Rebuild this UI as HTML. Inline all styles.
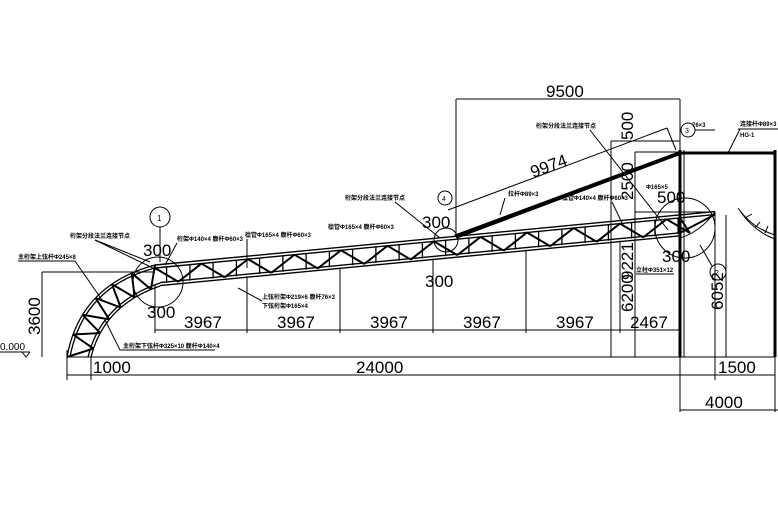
<!DOCTYPE html>
<html><head><meta charset="utf-8"><style>
body{margin:0;background:#fff;}
svg{display:block;}
text{font-family:"Liberation Sans",sans-serif;fill:#000;}
.c{font-family:"Liberation Sans","Noto Sans CJK SC",sans-serif;font-size:6px;font-weight:bold;}
.d{font-size:17px;}
</style></head><body>
<svg id="s" width="778" height="521" viewBox="0 0 778 521" xmlns="http://www.w3.org/2000/svg" stroke="#000" fill="none" stroke-width="1">
<line x1="67" y1="357" x2="775" y2="357"/>
<line x1="67" y1="375" x2="775" y2="375"/>
<line x1="67" y1="350" x2="67" y2="380"/>
<line x1="91" y1="357" x2="91" y2="380"/>
<line x1="680" y1="330" x2="680" y2="412"/>
<line x1="715" y1="212" x2="715" y2="380"/>
<line x1="775" y1="150" x2="775" y2="412"/>
<line x1="680" y1="410" x2="778" y2="410"/>
<text class="d" x="93" y="373" stroke="none">1000</text>
<text class="d" x="356" y="373" stroke="none">24000</text>
<text class="d" x="718" y="373" stroke="none">1500</text>
<text class="d" x="705" y="408" stroke="none">4000</text>
<line x1="0" y1="352" x2="30" y2="352"/>
<polyline points="22,352 26,357 30,352"/>
<text x="0" y="350" font-size="10" stroke="none">0.000</text>
<line x1="42" y1="272" x2="42" y2="357"/>
<line x1="42" y1="272" x2="155" y2="272"/>
<text class="d" transform="translate(40,335) rotate(-90)" stroke="none">3600</text>
<line x1="155" y1="330" x2="680" y2="330"/>
<g id="ticks"></g>
<text class="d" x="184" y="328" stroke="none">3967</text>
<text class="d" x="277" y="328" stroke="none">3967</text>
<text class="d" x="370" y="328" stroke="none">3967</text>
<text class="d" x="463" y="328" stroke="none">3967</text>
<text class="d" x="556" y="328" stroke="none">3967</text>
<text class="d" x="630" y="328" stroke="none">2467</text>
<line x1="456" y1="99" x2="680" y2="99"/>
<line x1="456" y1="99" x2="456" y2="236"/>
<line x1="680" y1="99" x2="680" y2="150"/>
<text class="d" x="546" y="97" stroke="none">9500</text>
<line x1="611" y1="141" x2="611" y2="357"/>
<line x1="635" y1="152" x2="635" y2="357"/>
<line x1="611" y1="141" x2="680" y2="141"/>
<line x1="635" y1="152" x2="680" y2="152"/>
<line x1="635" y1="212" x2="715" y2="212"/>
<line x1="726" y1="215" x2="726" y2="357"/>
<text class="d" transform="translate(633,140) rotate(-90)" stroke="none">500</text>
<text class="d" transform="translate(633,200) rotate(-90)" stroke="none">2500</text>
<text class="d" transform="translate(633,280) rotate(-90)" stroke="none">9221</text>
<text class="d" transform="translate(633,312) rotate(-90)" stroke="none">6200</text>
<text class="d" transform="translate(723,310) rotate(-90)" stroke="none">6052</text>
<line x1="448" y1="210" x2="667" y2="128"/>
<line x1="667" y1="128" x2="676" y2="150"/>
<text class="d" transform="translate(533,178) rotate(-20.5)" stroke="none">9974</text>
<line x1="680" y1="150" x2="680" y2="357" stroke-width="3"/>
<line x1="684" y1="150" x2="684" y2="357"/>
<line x1="775" y1="150" x2="775" y2="357" stroke-width="3"/>
<line x1="680" y1="153" x2="775" y2="153" stroke-width="3"/>
<polygon points="455,235 680,151.5 680,154.5 457,238" fill="#000"/>
<g id="truss"></g>
<path d="M680,238 Q700,232 715,212"/>
<path d="M738,208 Q752,228 775,235"/>
<path d="M740,211 Q755,232 775,239"/>
<line x1="745" y1="218" x2="752" y2="214"/><line x1="755" y1="228" x2="760" y2="222"/><line x1="765" y1="233" x2="768" y2="226"/>
<circle cx="158" cy="282" r="25"/>
<circle cx="446" cy="240" r="12"/>
<circle cx="685" cy="228" r="30"/>
<circle cx="160" cy="217" r="10"/>
<text x="157" y="221" font-size="8" stroke="none">1</text>
<line x1="160" y1="227" x2="160" y2="262"/>
<circle cx="445" cy="198" r="7"/>
<text x="442" y="201" font-size="7" stroke="none">4</text>
<circle cx="688" cy="130" r="7"/>
<text x="685" y="133" font-size="7" stroke="none">3</text>
<circle cx="718" cy="272" r="8"/>
<text x="715" y="275" font-size="7" stroke="none">2</text>
<line x1="700" y1="245" x2="712" y2="266"/>
<text class="d" x="143" y="256" stroke="none">300</text>
<text class="d" x="147" y="318" stroke="none">300</text>
<text class="d" x="422" y="228" stroke="none">300</text>
<text class="d" x="425" y="287" stroke="none">300</text>
<text class="d" x="657" y="203" stroke="none">500</text>
<text class="d" x="662" y="262" stroke="none">300</text>
<text class="c" x="70" y="238" stroke="none">桁架分段法兰连接节点</text>
<line x1="95" y1="240" x2="150" y2="262"/><line x1="95" y1="240" x2="157" y2="270"/>
<text class="c" x="18" y="259" stroke="none">主桁架上弦杆Φ245×8</text>
<line x1="18" y1="261" x2="75" y2="261"/><line x1="75" y1="261" x2="102" y2="300"/>
<text class="c" x="177" y="241" stroke="none">桁架Φ140×4 腹杆Φ60×3</text>
<line x1="177" y1="243" x2="165" y2="265"/>
<text class="c" x="245" y="237" stroke="none">檩管Φ165×4 腹杆Φ60×3</text>
<line x1="247" y1="239" x2="247" y2="268"/>
<text class="c" x="328" y="229" stroke="none">檩管Φ165×4 腹杆Φ60×3</text>
<text class="c" x="345" y="200" stroke="none">桁架分段法兰连接节点</text>
<line x1="395" y1="202" x2="440" y2="238"/>
<text class="c" x="262" y="299" stroke="none">上弦桁架Φ219×6 腹杆76×3</text>
<text class="c" x="262" y="308" stroke="none">下弦桁架Φ165×4</text>
<line x1="238" y1="288" x2="262" y2="301"/>
<text class="c" x="123" y="348" stroke="none">主桁架下弦杆Φ325×10 腹杆Φ140×4</text>
<line x1="120" y1="350" x2="215" y2="350"/><line x1="120" y1="350" x2="105" y2="320"/>
<text class="c" x="508" y="196" stroke="none">拉杆Φ89×3</text>
<line x1="505" y1="198" x2="500" y2="215"/>
<text class="c" x="562" y="200" stroke="none">檩管Φ140×4 腹杆Φ60×3</text>
<line x1="612" y1="202" x2="622" y2="223"/>
<text class="c" x="536" y="128" stroke="none">桁架分段法兰连接节点</text>
<line x1="590" y1="130" x2="668" y2="230"/>
<text class="c" x="646" y="189" stroke="none">Φ165×5</text>
<text class="c" x="636" y="272" stroke="none">立柱Φ351×12</text>
<line x1="636" y1="274" x2="674" y2="274"/>
<text class="c" x="692" y="127" stroke="none">76×3</text>
<line x1="695" y1="130" x2="715" y2="130"/>
<text class="c" x="740" y="126" stroke="none">连接杆Φ89×3</text>
<text class="c" x="740" y="137" stroke="none">HG-1</text>
<line x1="738" y1="129" x2="778" y2="129"/><line x1="740" y1="129" x2="728" y2="153"/>
</svg>
<script>
var NS="http://www.w3.org/2000/svg";
function L(g,x1,y1,x2,y2,w){var l=document.createElementNS(NS,"line");l.setAttribute("x1",x1);l.setAttribute("y1",y1);l.setAttribute("x2",x2);l.setAttribute("y2",y2);if(w)l.setAttribute("stroke-width",w);g.appendChild(l);}
var t=document.getElementById("ticks");
function yt(x){return 265-(x-155)*0.0955;}
[155,247,340,433,526,620].forEach(function(x){L(t,x,yt(x)+20,x,333);});
var g=document.getElementById("truss");
L(g,155,yt(155),715,yt(715),1.4);L(g,155,yt(155)+3,715,yt(715)+3,1.4);
L(g,160,yt(160)+21,680,yt(680)+21,1.4);L(g,160,yt(160)+18,680,yt(680)+18,1.4);
for(var x=155;x<680;x+=46.5){var xm=x+23.25,xe=x+46.5;if(xe>680)xe=680;
 L(g,x,yt(x)+3,xm,yt(xm)+19,2);L(g,xm,yt(xm)+19,xe,yt(xe)+3,2);
 var xv=x+11.6;L(g,xv,yt(xv)+3,xv,yt(xv)+19,1.3);xv=x+34.9;if(xv<680)L(g,xv,yt(xv)+3,xv,yt(xv)+19,1.3);}
L(g,680,yt(680)+18,715,yt(715)+3,2);
function bz(p0,p1,p2,s){var u=1-s;return[u*u*p0[0]+2*u*s*p1[0]+s*s*p2[0],u*u*p0[1]+2*u*s*p1[1]+s*s*p2[1]];}
var o0=[67,357],o1=[80,285],o2=[155,265],i0=[91,357],i1=[104,305],i2=[160,286];
function path(a,b,c){var p=document.createElementNS(NS,"path");p.setAttribute("d","M"+a+" Q"+b+" "+c);p.setAttribute("stroke-width","1.3");g.appendChild(p);}
path(o0,o1,o2);path([70,357],[83,287],[155,268]);path(i0,i1,i2);path([88,357],[101,303],[160,283]);
for(var k=0;k<6;k++){var s0=k/6,s1=(k+0.5)/6,s2=(k+1)/6;var a=bz(o0,o1,o2,s0),b=bz(i0,i1,i2,s1),c=bz(o0,o1,o2,s2);
 L(g,a[0],a[1],b[0],b[1],2);L(g,b[0],b[1],c[0],c[1],2);}
</script>
</body></html>
